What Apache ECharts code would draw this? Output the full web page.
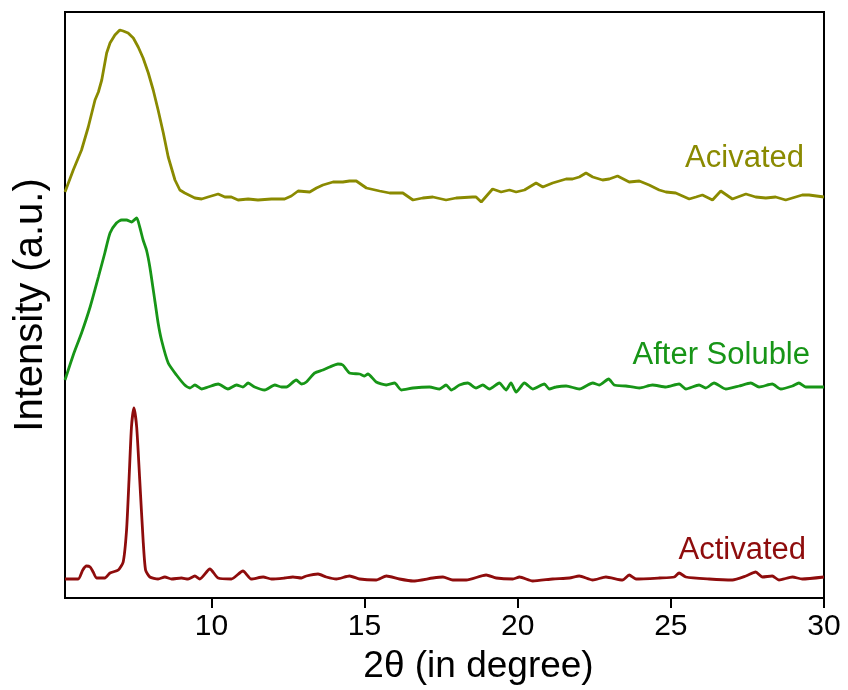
<!DOCTYPE html>
<html>
<head>
<meta charset="utf-8">
<script src="https://cdn.jsdelivr.net/npm/echarts@6/dist/echarts.min.js"></script>
<style>
  html, body { margin: 0; padding: 0; background: #ffffff; }
  #chart { width: 848px; height: 690px; }
</style>
</head>
<body>
<div id="chart"></div>
<script>
// ---- data (x = 2θ in degree, y = intensity in a.u., stacked offsets included) ----
const xTickValues = [10, 15, 20, 25, 30];

const acivatedPattern = [
  [5.22,406],[5.49,428],[5.76,448],[5.98,471],[6.2,498],[6.31,506],[6.42,518],[6.58,545],[6.69,555],[6.85,563],
  [7.01,568],[7.12,567],[7.28,565],[7.45,560],[7.61,551],[7.77,540],[7.94,525],[8.1,508],[8.26,488],[8.43,465],
  [8.59,441],[8.81,418],[8.97,408],[9.13,405],[9.46,400],[9.68,399],[9.89,401],[10.22,404],[10.44,401],[10.65,401],
  [10.87,398],[11.2,399],[11.52,398],[11.96,399],[12.39,399],[12.61,402],[12.83,407],[13.21,406],[13.43,410],[13.64,413],
  [13.97,416],[14.29,416],[14.51,417],[14.73,417],[15.06,410],[15.49,407],[15.82,405],[16.25,405],[16.58,398],[16.9,400],
  [17.23,401],[17.66,398],[17.99,400],[18.53,401],[18.64,401],[18.81,396],[19.18,409],[19.46,406],[19.73,408],[19.95,406],
  [20.22,408],[20.6,415],[20.82,411],[21.14,415],[21.58,419],[21.79,419],[22.01,421],[22.23,425],[22.45,421],[22.77,418],
  [22.99,419],[23.26,422],[23.64,416],[23.97,417],[24.29,413],[24.62,408],[24.84,406],[25.16,405],[25.6,399],[25.82,401],
  [26.03,403],[26.36,398],[26.63,407],[27.01,399],[27.45,404],[27.77,401],[28.1,400],[28.42,401],[28.75,398],[29.29,403],
  [29.51,403],[30,401]
];

const afterSolublePattern = [
  [5.22,218],[5.49,243],[5.76,265],[6.04,291],[6.31,321],[6.52,345],[6.69,365],[6.9,375],[7.07,378],[7.23,378],
  [7.39,376],[7.56,380],[7.66,371],[7.77,358],[7.88,348],[7.99,331],[8.15,298],[8.26,275],[8.37,258],[8.59,235],
  [8.86,223],[9.13,213],[9.3,210],[9.46,213],[9.68,209],[9.89,211],[10.22,214],[10.54,209],[10.82,213],[11.03,211],
  [11.2,215],[11.41,211],[11.74,208],[12.07,213],[12.29,211],[12.45,211],[12.77,218],[12.94,214],[13.1,216],[13.37,225],
  [13.64,228],[13.86,231],[14.13,234],[14.29,233],[14.51,225],[14.84,224],[15.0,222],[15.11,224],[15.38,216],[15.71,213],
  [15.98,215],[16.2,208],[16.58,210],[17.12,211],[17.45,209],[17.66,213],[17.83,208],[18.1,213],[18.37,215],[18.64,210],
  [18.86,213],[19.08,209],[19.4,215],[19.62,208],[19.78,215],[19.95,206],[20.22,215],[20.49,209],[20.87,214],[21.03,209],
  [21.25,211],[21.58,212],[22.01,209],[22.45,215],[22.66,213],[22.97,219],[23.15,213],[23.53,212],[23.97,210],[24.4,213],
  [24.84,211],[25.27,214],[25.49,209],[25.92,213],[26.14,210],[26.41,215],[26.79,209],[27.23,212],[27.61,215],[27.88,211],
  [28.31,214],[28.59,209],[28.97,212],[29.18,215],[29.4,211],[30,211]
];

const activatedPattern = [
  [5.22,19],[5.65,19],[5.8,28],[5.92,32],[6.04,31],[6.14,26],[6.25,20],[6.52,20],[6.69,25],[6.96,28],[7.12,36],
  [7.23,68],[7.31,118],[7.39,171],[7.47,190],[7.56,171],[7.66,118],[7.77,58],[7.85,28],[7.99,21],[8.26,19],
  [8.48,21],[8.7,19],[9.02,20],[9.24,19],[9.46,22],[9.62,19],[9.95,29],[10.22,20],[10.65,19],[11.03,27],
  [11.3,19],[11.69,21],[11.96,19],[12.39,20],[12.66,21],[12.94,20],[13.1,22],[13.48,24],[13.75,21],[14.08,19],
  [14.51,22],[14.84,19],[15.38,18],[15.71,22],[16.14,19],[16.58,17],[17.23,20],[17.56,21],[17.88,18],[18.32,18],
  [18.97,23],[19.3,20],[19.84,19],[20.06,21],[20.49,17],[21.14,19],[21.69,20],[22.01,22],[22.45,18],[22.88,21],
  [23.42,18],[23.64,23],[23.86,19],[24.62,20],[25.11,21],[25.27,25],[25.49,21],[26.25,19],[27.01,18],[27.45,22],
  [27.77,26],[27.99,21],[28.31,22],[28.53,18],[28.97,21],[29.29,19],[30,21]
];

const seriesNames = ['Acivated', 'After Soluble', 'Activated'];
const seriesColors = ['#8a8a00', '#179517', '#8e0c0c'];

// ---- chart ----
const chart = echarts.init(document.getElementById('chart'), null, { renderer: 'canvas' });
const FONT = '"Liberation Sans", Arial, sans-serif';

const patterns = [acivatedPattern, afterSolublePattern, activatedPattern];

chart.setOption({
  animation: false,
  backgroundColor: '#ffffff',
  grid: {
    left: 65, right: 24, top: 12, bottom: 92,
    show: true, borderColor: '#000', borderWidth: 2, backgroundColor: 'transparent'
  },
  xAxis: {
    type: 'value',
    min: 5.22, max: 30,
    name: '2θ (in degree)',
    nameLocation: 'middle',
    nameGap: 50,
    nameTextStyle: { fontFamily: FONT, fontSize: 37, color: '#000', padding: [0, 0, 0, 68] },
    axisLine: { show: true, onZero: false, lineStyle: { color: '#000', width: 2 } },
    axisTick: { show: true, inside: false, length: 10, customValues: xTickValues, lineStyle: { color: '#000', width: 2 } },
    axisLabel: { show: true, customValues: xTickValues, margin: 14, fontFamily: FONT, fontSize: 30, color: '#000' },
    splitLine: { show: false }
  },
  yAxis: {
    type: 'value',
    min: 0, max: 586,
    name: 'Intensity (a.u.)',
    nameLocation: 'middle',
    nameGap: 14,
    nameRotate: 90,
    nameTextStyle: { fontFamily: FONT, fontSize: 40, color: '#000' },
    axisLine: { show: true, lineStyle: { color: '#000', width: 2 } },
    axisTick: { show: false },
    axisLabel: { show: false },
    splitLine: { show: false }
  },
  series: patterns.map((d, i) => ({
    name: seriesNames[i],
    type: 'line',
    data: d,
    showSymbol: false,
    symbol: 'none',
    smooth: i === 0 ? false : 0.2,
    lineStyle: { color: seriesColors[i], width: 2.8 },
    z: 3
  })),
  graphic: [
    { type: 'text', right: 848 - 804, top: 143,
      style: { text: seriesNames[0], fill: seriesColors[0], font: '31px ' + FONT } },
    { type: 'text', right: 848 - 810, top: 340,
      style: { text: seriesNames[1], fill: seriesColors[1], font: '31px ' + FONT } },
    { type: 'text', right: 848 - 806, top: 535,
      style: { text: seriesNames[2], fill: seriesColors[2], font: '31px ' + FONT } }
  ]
});
</script>
</body>
</html>
